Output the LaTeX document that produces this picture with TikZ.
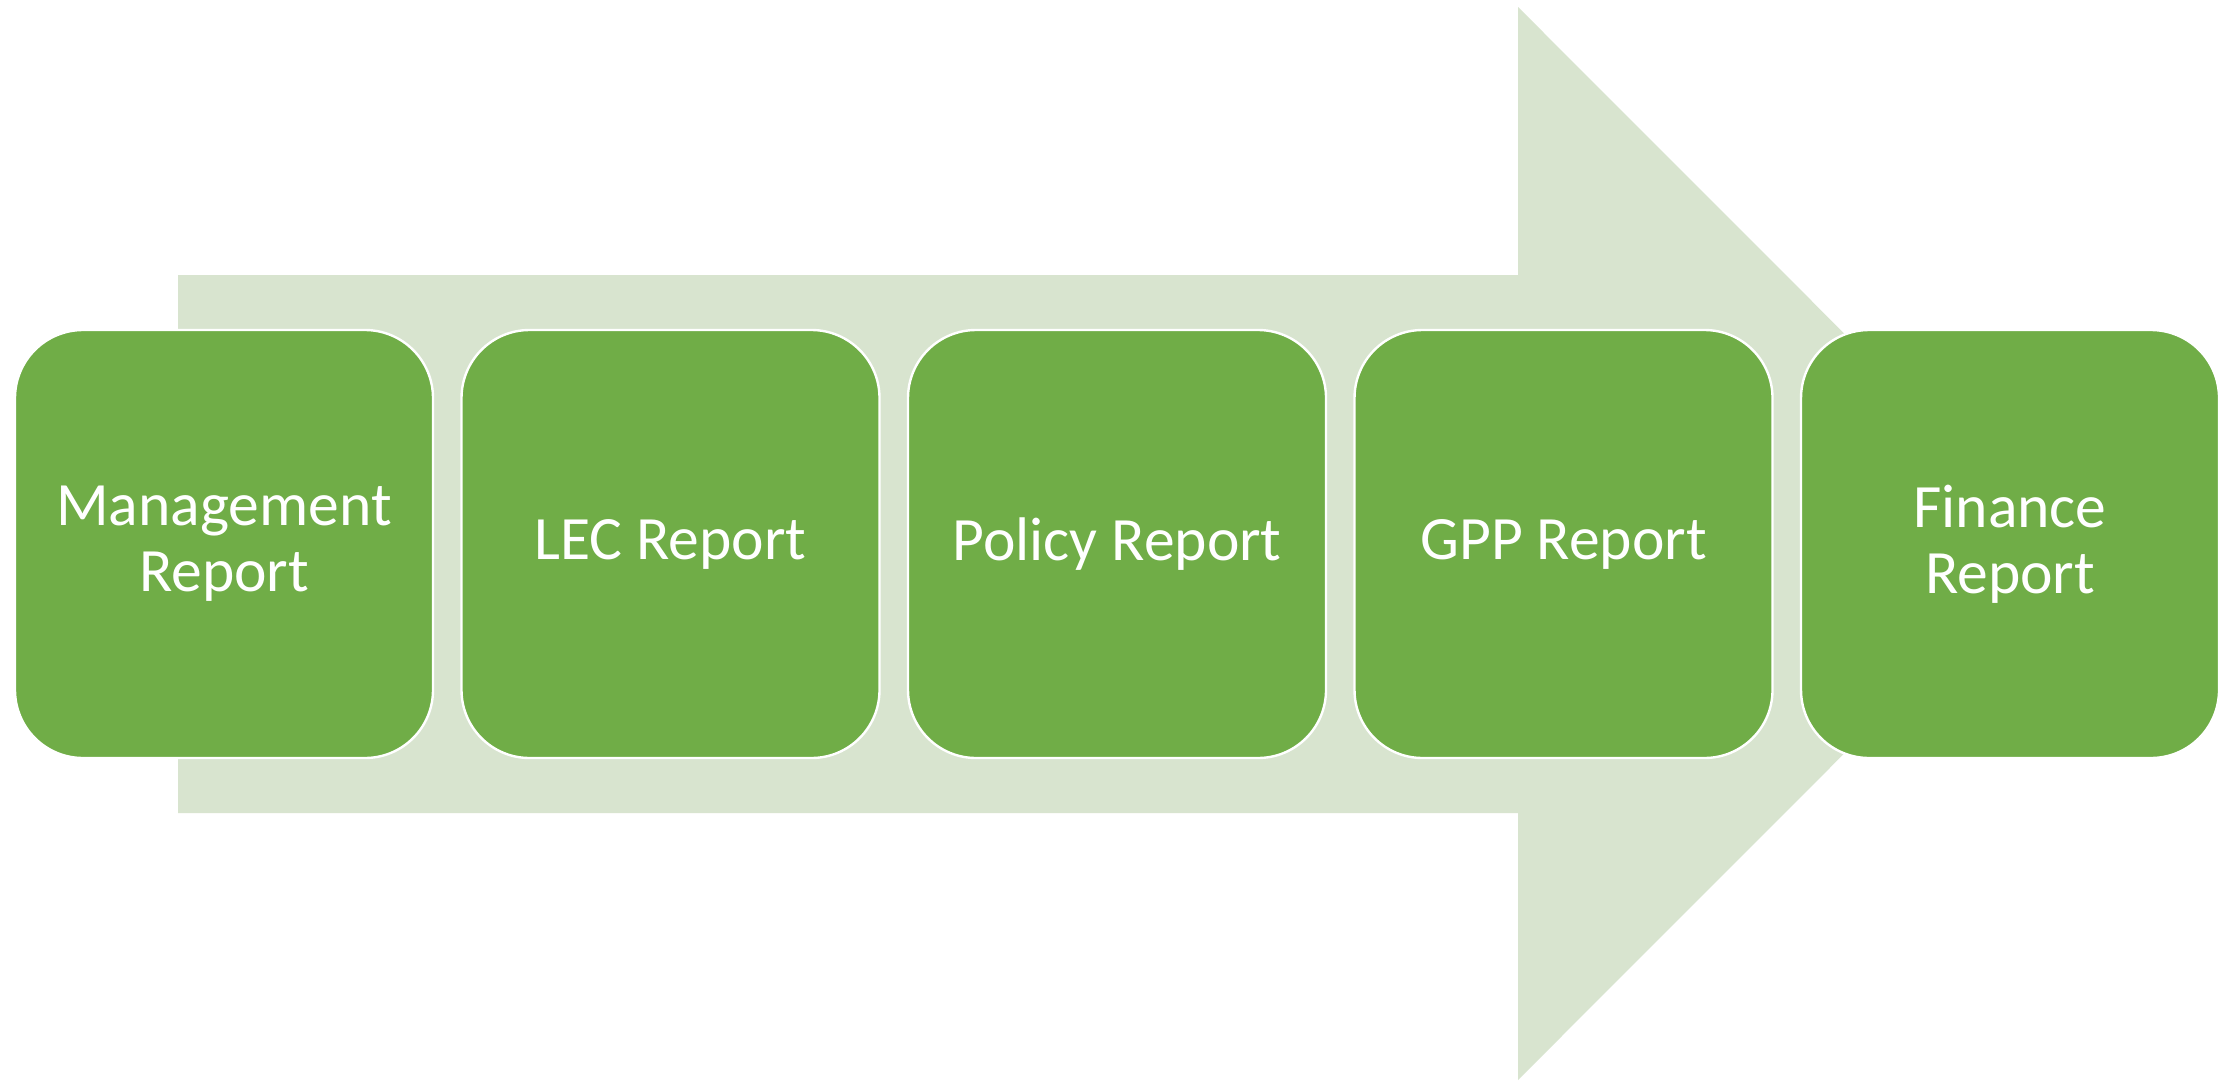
\documentclass[tikz,border=0pt]{standalone}
\usepackage{fontspec}
\setmainfont{Carlito}
\definecolor{boxgreen}{HTML}{70AD47}
\definecolor{arrowgreen}{HTML}{D8E4CF}
\tikzset{
  reportbox/.style={draw=white, line width=0.6pt, fill=boxgreen, rounded corners=17pt,
    minimum width=104.5pt, minimum height=107pt, inner sep=0pt, align=center,
    text=white, font=\fontsize{15.4}{16.5}\selectfont}
}
\begin{document}
\begin{tikzpicture}[x=0.25pt,y=-0.25pt]
\useasboundingbox (0,0) rectangle (2236,1081);
\fill[white] (0,0) rectangle (2236,1081);
\fill[arrowgreen] (178,275) -- (1518,275) -- (1518,7) -- (2054,543.5) -- (1518,1080) -- (1518,813) -- (178,813) -- cycle;
\node[reportbox] (b1) at (224,544) {Management\\Report};
\node[reportbox] (b2) at (670.5,544) {LEC Report};
\node[reportbox] (b3) at (1117,544) {Policy Report};
\node[reportbox] (b4) at (1563.5,544) {GPP Report};
\node[reportbox] (b5) at (2010,544) {Finance\\Report};
\end{tikzpicture}
\end{document}
